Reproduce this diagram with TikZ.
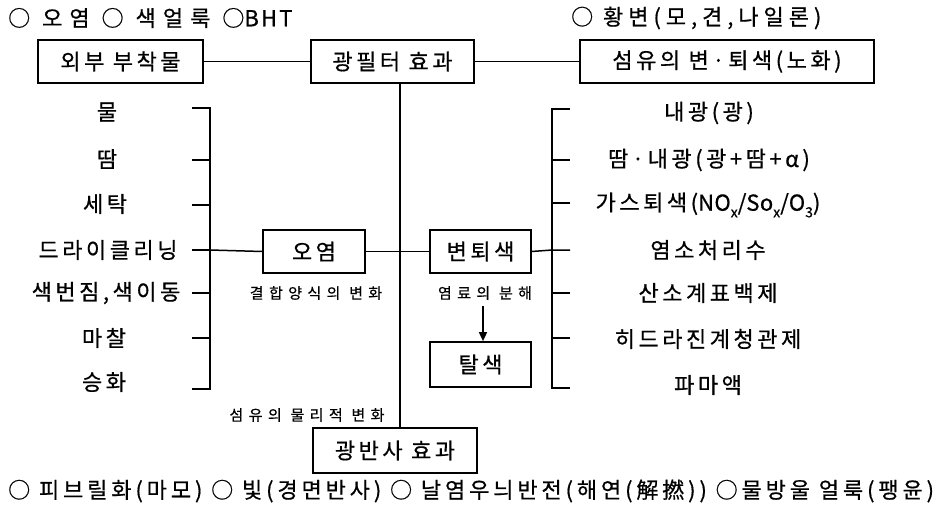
\documentclass[tikz,border=0pt]{standalone}
\usepackage{fontspec}
\setmainfont{Noto Sans CJK KR}[FakeBold=0.6]
\usetikzlibrary{arrows.meta}
\newcommand{\lat}[1]{{\addfontfeature{LetterSpace=2}#1}}
\newcommand{\sbx}[1]{\raisebox{-0.3em}{\fontsize{14}{15}\selectfont\addfontfeature{LetterSpace=0}#1}}
\tikzset{
  lbl/.style={font=\fontsize{22}{26}\selectfont\addfontfeature{LetterSpace=16}, inner sep=0pt},
  sml/.style={font=\fontsize{15}{17}\selectfont\addfontfeature{LetterSpace=36}, inner sep=0pt},
  boxn/.style={draw, line width=1.7pt, inner sep=0pt, lbl, minimum height=43pt},
  ln/.style={line width=1.5pt},
  mainln/.style={line width=2.6pt},
}
\begin{document}
\begin{tikzpicture}[x=1pt,y=-1pt]
\useasboundingbox (0,0) rectangle (943,511);
\fill[white] (0,0) rectangle (943,511);
% top notes
\node[lbl, anchor=west, font=\fontsize{22}{26}\selectfont\addfontfeature{LetterSpace=32}] (tl) at (8,18) {○ 오염 ○ 색얼룩 ○{\addfontfeature{LetterSpace=10}BHT}};
\node[lbl, anchor=west, font=\fontsize{22}{26}\selectfont\addfontfeature{LetterSpace=22.5}] (tr) at (571,18) {○ 황변(모,견,나일론)};
% top boxes
\node[boxn, minimum width=165pt] (ext) at (120.5,61.5) {외부 부착물};
\node[boxn, minimum width=163pt] (fil) at (392.5,61.5) {광필터 효과};
\node[boxn, minimum width=294pt] (fib) at (727,61.5) {섬유의 변·퇴색(노화)};
\draw[ln] (ext.east) -- (fil.west);
\draw[ln] (fil.east) -- (fib.west);
% middle boxes
\node[boxn, minimum width=102pt] (oy) at (314,251.5) {오염};
\node[boxn, minimum width=101pt] (bt) at (480.5,251.5) {변퇴색};
\node[boxn, minimum width=101pt, minimum height=45pt] (ts) at (480.5,364.5) {탈색};
\node[boxn, minimum width=164pt, minimum height=45pt] (ban) at (395,450.5) {광반사 효과};
% main vertical
\coordinate (mx) at (400,0);
\draw[mainln] (fil.south -| mx) -- (ban.north -| mx);
% sub labels
\node[sml] (s1) at (316,293) {결합양식의 변화};
\node[sml] (s2) at (485,293) {염료의 분해};
\node[sml] (s3) at (307,415) {섬유의 물리적 변화};
\draw[ln, -{Triangle[length=9pt,width=8pt]}] (483,306) -- (ts.north -| 483,0);
% left bracket
\coordinate (lb1) at (210,108);
\coordinate (lb7) at (210,389);
\draw[ln] (192,108) -- (lb1) -- (lb7) -- (192,389);
\foreach \yy in {160,205,293,338} \draw[ln] (192,\yy) -- (210,\yy);
\coordinate (lb4) at (210,250);
\draw[ln] (192,250) -- (lb4);
\draw[ln] (lb4) -- (oy.west);
\draw[ln] (oy.east) -- (bt.west);
% right bracket
\coordinate (rb1) at (552,109);
\coordinate (rb7) at (552,388);
\draw[ln] (570,109) -- (rb1) -- (rb7) -- (570,388);
\foreach \yy in {160,203,293,338} \draw[ln] (552,\yy) -- (570,\yy);
\coordinate (rb4) at (552,250);
\draw[ln] (bt.east) -- (rb4) -- (570,250);
% left labels
\node[lbl] (l1) at (107,112) {물};
\node[lbl] (l2) at (107,159) {땀};
\node[lbl] (l3) at (105,204) {세탁};
\node[lbl] (l4) at (108,250) {드라이클리닝};
\node[lbl] (l5) at (106,293) {색번짐,색이동};
\node[lbl] (l6) at (104,338) {마찰};
\node[lbl] (l7) at (104,382) {승화};
% right labels
\node[lbl] (r1) at (709,113) {내광(광)};
\node[lbl] (r2) at (709,160) {땀·내광(광+땀+α)};
\node[lbl] (r3) at (708,205) {가스퇴색(\lat{NO}\sbx{x}/\lat{So}\sbx{x}/\lat{O}\sbx{3})};
\node[lbl] (r4) at (708,250) {염소처리수};
\node[lbl] (r5) at (708,293) {산소계표백제};
\node[lbl] (r6) at (708,339) {히드라진계청관제};
\node[lbl] (r7) at (708,385) {파마액};
% bottom notes
\node[lbl, anchor=west, font=\fontsize{22}{26}\selectfont\addfontfeature{LetterSpace=17.6}] (bl) at (8,491) {○ 피브릴화(마모) ○ 빛(경면반사) ○ 날염우늬반전(해연(解撚)) ○물방울 얼룩(팽윤)};
\end{tikzpicture}
\end{document}
